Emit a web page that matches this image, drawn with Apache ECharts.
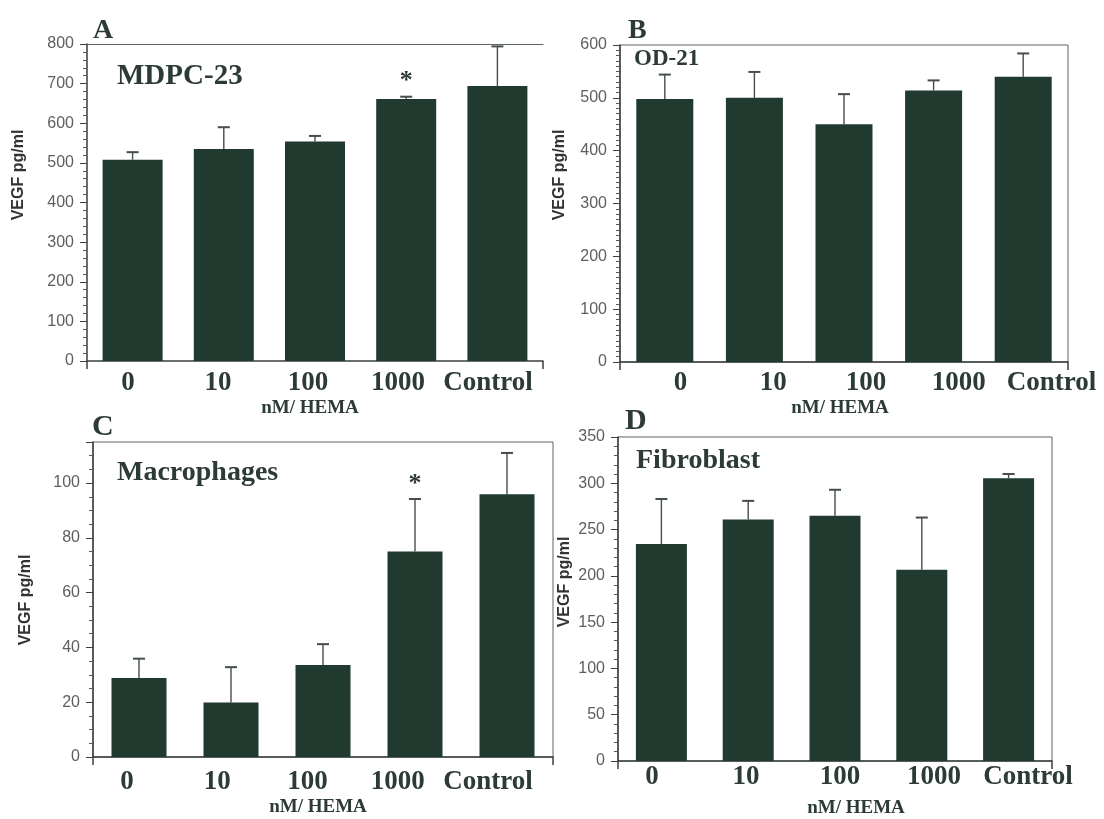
<!DOCTYPE html>
<html><head><meta charset="utf-8">
<script src="https://cdn.jsdelivr.net/npm/echarts@6/dist/echarts.min.js"></script>
<style>html,body{margin:0;padding:0;background:#fff}#c{width:1104px;height:819px}</style>
</head><body><div id="c"></div>
<script>
// ---------- data ----------
const categories = ['0', '10', '100', '1000', 'Control'];

const mdpcMean = [508, 535, 554, 661, 694];
const mdpcSD   = [19, 55, 14, 6, 100];
const mdpcSig  = [0, 0, 0, 1, 0];

const od21Mean = [498, 500, 450, 514, 540];
const od21SD   = [46, 49, 57, 19, 44];
const od21Sig  = [0, 0, 0, 0, 0];

const macroMean = [28.8, 19.9, 33.6, 75.0, 95.9];
const macroSD   = [7.1, 12.9, 7.6, 19.2, 15.1];
const macroSig  = [0, 0, 0, 1, 0];

const fibroMean = [234.5, 261, 265, 206.5, 305.5];
const fibroSD   = [48.5, 20, 28, 56.5, 4.5];
const fibroSig  = [0, 0, 0, 0, 0];

const panelTitles = ['MDPC-23', 'OD-21', 'Macrophages', 'Fibroblast'];
const panelLetters = ['A', 'B', 'C', 'D'];
const yAxisName = 'VEGF pg/ml';
const xAxisName = 'nM/ HEMA';
const yMax = [800, 600, 115, 350];
const yInterval = [100, 100, 20, 50];

// ---------- layout / style ----------
const BAR = '#213a2f';
const TXT = '#2c3b33';
const AX = '#3a403d';
const SERIF = '"Liberation Serif","Times New Roman",serif';
const SANS = '"Liberation Sans",Arial,sans-serif';

const layout = [
  {grid:{left:87, top:44, width:456, height:317}, lab:{left:83, width:450}, labMargin:8, barWidth:60, minor:5, box:false,
   letter:[93,31,28], title:[117,77,29], yname:[19,175], xname:[310,408]},
  {grid:{left:620, top:45, width:448, height:317}, lab:{left:634, width:464}, labMargin:7, barWidth:57, minor:10, box:true,
   letter:[628,31,28], title:[634,59,23], yname:[560,175], xname:[840,408]},
  {grid:{left:93, top:442, width:460, height:315}, lab:{left:82, width:451}, labMargin:11, barWidth:55, minor:4, box:true,
   letter:[92,427,30], title:[117,473,28], yname:[26,600], xname:[318,807]},
  {grid:{left:618, top:437, width:434, height:324}, lab:{left:605, width:470}, labMargin:2, barWidth:51, minor:5, box:true,
   letter:[625,421,30], title:[636,461,28], yname:[565,582], xname:[856,808]}
];

const means = [mdpcMean, od21Mean, macroMean, fibroMean];
const sds = [mdpcSD, od21SD, macroSD, fibroSD];
const sigs = [mdpcSig, od21Sig, macroSig, fibroSig];

function errRender(params, api) {
  const x = api.value(0), m = api.value(1), s = api.value(2), sig = api.value(3);
  const p0 = api.coord([x, m]);
  const p1 = api.coord([x, m + s]);
  const hw = 6;
  const children = [
    {type:'line', shape:{x1:p0[0], y1:p0[1], x2:p1[0], y2:p1[1]}, style:{stroke:'#444e49', lineWidth:1.4}},
    {type:'line', shape:{x1:p1[0]-hw, y1:p1[1], x2:p1[0]+hw, y2:p1[1]}, style:{stroke:'#444e49', lineWidth:2}}
  ];
  if (sig) {
    children.push({type:'text', x:p1[0], y:p1[1]-15,
      style:{text:'*', font:'bold 26px ' + SERIF, fill:TXT, align:'center', verticalAlign:'middle'}});
  }
  return {type:'group', children};
}

const grids = [], xAxes = [], yAxes = [], series = [], graphics = [];

layout.forEach((L, i) => {
  grids.push(Object.assign({containLabel:false,
    show:L.box, borderColor:'#5d6561', borderWidth:1, backgroundColor:'transparent'}, L.grid));
  // bar axes
  xAxes.push({type:'category', gridIndex:i, data:categories, boundaryGap:true,
    axisLine:{show:true, lineStyle:{color:AX, width:1.5}},
    axisTick:{show:true, interval:(idx)=>idx===0, length:8, lineStyle:{color:AX, width:1.5}},
    axisLabel:{show:false}, splitLine:{show:false}});
  yAxes.push({type:'value', gridIndex:i, min:0, max:yMax[i], interval:yInterval[i],
    axisLine:{show:true, lineStyle:{color:AX, width:1.5}},
    axisTick:{show:true, length:7, lineStyle:{color:AX}},
    minorTick:{show:true, splitNumber:L.minor, length:4, lineStyle:{color:'#555'}},
    splitLine:{show:false},
    axisLabel:{color:'#5b605d', fontFamily:SANS, fontSize:16, margin:13,
      showMaxLabel: (yMax[i] % yInterval[i] === 0)}});
  series.push({type:'bar', xAxisIndex:i, yAxisIndex:i, data:means[i], barWidth:L.barWidth,
    itemStyle:{color:BAR}, z:2});
  series.push({type:'custom', xAxisIndex:i, yAxisIndex:i, renderItem:errRender, clip:false, z:3,
    encode:{x:0, y:1},
    data: categories.map((c, k) => [k, means[i][k], sds[i][k], sigs[i][k]])});

  // titles / decorations
  graphics.push({type:'text', x:L.letter[0], y:L.letter[1],
    style:{text:panelLetters[i], font:'bold ' + L.letter[2] + 'px ' + SERIF, fill:TXT, align:'left', verticalAlign:'middle'}});
  graphics.push({type:'text', x:L.title[0], y:L.title[1],
    style:{text:panelTitles[i], font:'bold ' + L.title[2] + 'px ' + SERIF, fill:TXT, align:'left', verticalAlign:'middle'}});
  graphics.push({type:'text', x:L.yname[0], y:L.yname[1], rotation:Math.PI/2,
    style:{text:yAxisName, font:'bold 16px ' + SANS, fill:'#333', align:'center', verticalAlign:'middle'}});
  graphics.push({type:'text', x:L.xname[0], y:L.xname[1],
    style:{text:xAxisName, font:'bold 19px ' + SERIF, fill:TXT, align:'center', verticalAlign:'middle'}});
});

// label-only grids (category labels)
layout.forEach((L, i) => {
  const gi = grids.length;
  grids.push({left:L.lab.left, width:L.lab.width, top:L.grid.top + L.grid.height, height:1, show:false});
  xAxes.push({type:'category', gridIndex:gi, data:categories, boundaryGap:true,
    axisLine:{show:false}, axisTick:{show:false},
    axisLabel:{show:true, interval:0, color:TXT, fontFamily:SERIF, fontWeight:'bold', fontSize:27, margin:L.labMargin}});
  yAxes.push({type:'value', gridIndex:gi, show:false});
});

// top line for panel A (no full box)
xAxes.push({type:'category', gridIndex:0, position:'top', data:categories,
  axisLine:{show:true, lineStyle:{color:'#5d6561', width:1.2}}, axisTick:{show:false}, axisLabel:{show:false}});

const chart = echarts.init(document.getElementById('c'), null, {renderer:'canvas'});
chart.setOption({
  backgroundColor:'#ffffff',
  animation:false,
  grid:grids, xAxis:xAxes, yAxis:yAxes, series:series,
  graphic:graphics
});
</script></body></html>
